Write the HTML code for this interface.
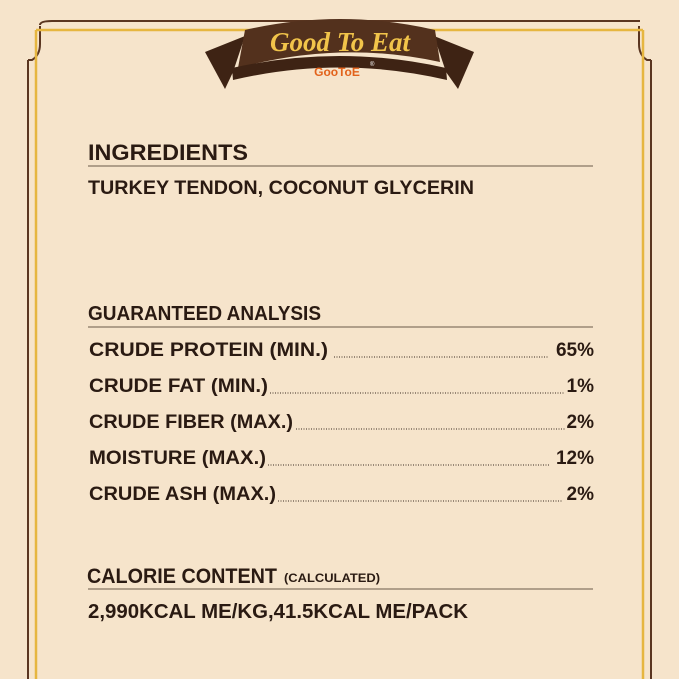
<!DOCTYPE html>
<html><head><style>
body{margin:0;background:#f6e4cb;}
svg{display:block}
text{font-family:"Liberation Sans",sans-serif;fill:#2a1a12;font-weight:bold}
</style></head><body>
<svg width="679" height="679" viewBox="0 0 679 679">
<rect width="679" height="679" fill="#f6e4cb"/>
<path d="M52 21 H640 M40 25 Q40 21 52 21 M28 60 V679 M651 60 V679 M28 60 H32 Q40 55 40 44 V26 M651 60 H647 Q639 55 639 44 V26" stroke="#5a3520" stroke-width="2" fill="none"/>
<path d="M36 30 H643 M36 30 V679 M643 30 V679" stroke="#e6b640" stroke-width="2.5" fill="none"/>
<path d="M205 52 L245 36 L233 72 L225 89 Z" fill="#3e2314"/>
<path d="M474 52 L434 36 L446 72 L458 89 Z" fill="#3e2314"/>
<path d="M245 30 Q340 8 435 30 L440 62 Q340 40 238 68 Z" fill="#53311d"/>
<path d="M232 68 Q340 44 446 68 L447 80 Q340 55 233 80 Z" fill="#3e2314"/>
<text x="340" y="51" text-anchor="middle" font-style="italic" font-size="27" style="fill:#f1c44a;font-family:'Liberation Serif',serif">Good To Eat</text>
<text x="337" y="76" text-anchor="middle" font-size="12" style="fill:#e2621b">GooToE</text>
<text x="370" y="66" font-size="6" style="fill:#fff;font-weight:normal">®</text>
<text x="88" y="160" font-size="22" textLength="160" lengthAdjust="spacingAndGlyphs">INGREDIENTS</text>
<line x1="88" y1="166" x2="593" y2="166" stroke="#6b5a4a" stroke-width="1"/>
<text x="88" y="194" font-size="19" textLength="386" lengthAdjust="spacingAndGlyphs">TURKEY TENDON, COCONUT GLYCERIN</text>
<text x="88" y="320" font-size="20" textLength="233" lengthAdjust="spacingAndGlyphs">GUARANTEED ANALYSIS</text>
<line x1="88" y1="327" x2="593" y2="327" stroke="#6b5a4a" stroke-width="1"/>
<g font-size="19">
<text x="89" y="356" textLength="239" lengthAdjust="spacingAndGlyphs">CRUDE PROTEIN (MIN.)</text><text x="594" y="356" text-anchor="end">65%</text>
<text x="89" y="392" textLength="179" lengthAdjust="spacingAndGlyphs">CRUDE FAT (MIN.)</text><text x="594" y="392" text-anchor="end">1%</text>
<text x="89" y="428" textLength="204" lengthAdjust="spacingAndGlyphs">CRUDE FIBER (MAX.)</text><text x="594" y="428" text-anchor="end">2%</text>
<text x="89" y="464" textLength="177" lengthAdjust="spacingAndGlyphs">MOISTURE (MAX.)</text><text x="594" y="464" text-anchor="end">12%</text>
<text x="89" y="500" textLength="187" lengthAdjust="spacingAndGlyphs">CRUDE ASH (MAX.)</text><text x="594" y="500" text-anchor="end">2%</text>
</g>
<g stroke="#3a2a20" stroke-width="1" stroke-dasharray="1,1.5">
<line x1="334" y1="357" x2="549" y2="357"/>
<line x1="270" y1="393" x2="565" y2="393"/>
<line x1="296" y1="429" x2="565" y2="429"/>
<line x1="268" y1="465" x2="550" y2="465"/>
<line x1="278" y1="501" x2="563" y2="501"/>
</g>
<text x="87" y="583" font-size="21" textLength="190" lengthAdjust="spacingAndGlyphs">CALORIE CONTENT</text>
<text x="284" y="582" font-size="12" textLength="96" lengthAdjust="spacingAndGlyphs">(CALCULATED)</text>
<line x1="88" y1="589" x2="593" y2="589" stroke="#6b5a4a" stroke-width="1"/>
<text x="88" y="618" font-size="20" textLength="380" lengthAdjust="spacingAndGlyphs">2,990KCAL ME/KG,41.5KCAL ME/PACK</text>
</svg>
</body></html>
